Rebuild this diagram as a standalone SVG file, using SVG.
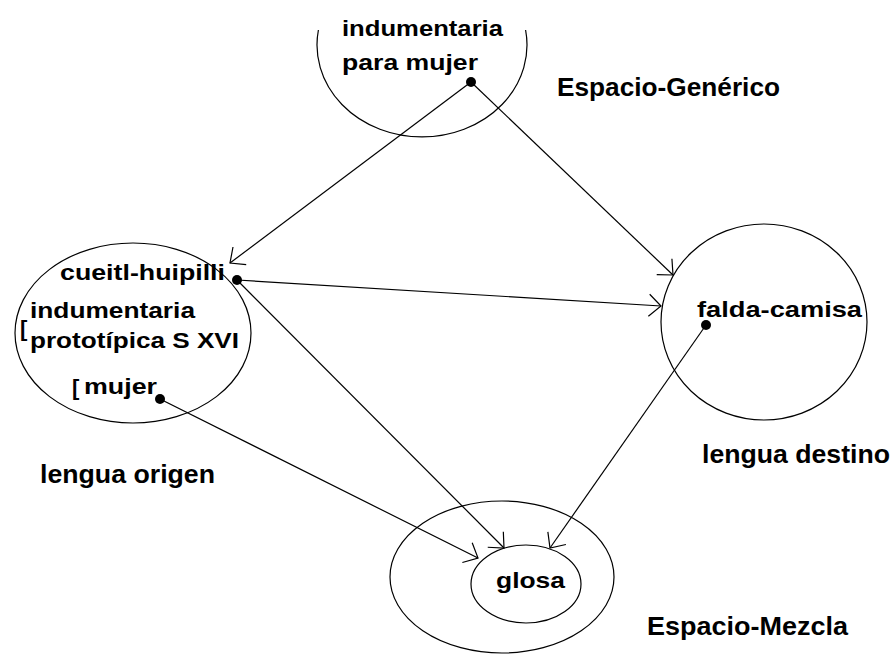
<svg xmlns="http://www.w3.org/2000/svg" width="895" height="654" viewBox="0 0 895 654">
<style>
.sh{fill:none;stroke:#000;stroke-width:1.2}
.t{font-family:"Liberation Sans",Arial,sans-serif;font-weight:bold;font-size:22px;fill:#000}
.l{font-family:"Liberation Sans",Arial,sans-serif;font-weight:bold;font-size:25px;fill:#000}
.c{stroke:#000;stroke-width:1.2;fill:none}
.d{fill:#000}
</style>
<defs>
<marker id="ah" viewBox="-16 -12 18 24" markerWidth="18" markerHeight="24" refX="0" refY="0" orient="auto" markerUnits="userSpaceOnUse" overflow="visible">
<path d="M-12,-11 L0,0 L-12,11" fill="none" stroke="#000" stroke-width="1.2"/>
</marker>
</defs>
<rect width="895" height="654" fill="#fff"/>
<g id="generico">
<path class="sh" d="M318.4,30 A105,92 0 1 0 525.6,30"/>
<text class="t" x="342" y="36" textLength="161" lengthAdjust="spacingAndGlyphs">indumentaria</text>
<text class="t" x="342" y="70" textLength="136" lengthAdjust="spacingAndGlyphs">para mujer</text>
<circle class="d" cx="471" cy="82" r="5"/>
</g>
<g id="label-generico">
<text class="l" x="557" y="96" textLength="223" lengthAdjust="spacingAndGlyphs">Espacio-Genérico</text>
</g>
<g id="origen">
<ellipse class="sh" cx="133" cy="333" rx="118" ry="90"/>
<text class="t" x="60" y="280" textLength="165" lengthAdjust="spacingAndGlyphs">cueitl-huipilli</text>
<text class="t" x="30" y="318" textLength="165" lengthAdjust="spacingAndGlyphs">indumentaria</text>
<text class="t" x="20" y="336" font-size="25">[</text>
<text class="t" x="30" y="348" textLength="209" lengthAdjust="spacingAndGlyphs">prototípica S XVI</text>
<text class="t" x="72" y="395" font-size="23">[</text>
<text class="t" x="84" y="394" textLength="73" lengthAdjust="spacingAndGlyphs">mujer</text>
<circle class="d" cx="237" cy="280" r="5"/>
<circle class="d" cx="160" cy="399" r="5"/>
</g>
<g id="label-origen">
<text class="l" x="40" y="483" textLength="175" lengthAdjust="spacingAndGlyphs">lengua origen</text>
</g>
<g id="destino">
<ellipse class="sh" cx="764" cy="322" rx="103" ry="98"/>
<text class="t" x="697" y="317" textLength="165" lengthAdjust="spacingAndGlyphs">falda-camisa</text>
<circle class="d" cx="706" cy="325" r="5"/>
</g>
<g id="label-destino">
<text class="l" x="702" y="463" textLength="188" lengthAdjust="spacingAndGlyphs">lengua destino</text>
</g>
<g id="mezcla">
<ellipse class="sh" cx="502" cy="577" rx="112" ry="76"/>
<ellipse class="sh" cx="526" cy="584" rx="55" ry="39"/>
<text class="t" x="496" y="588" textLength="69" lengthAdjust="spacingAndGlyphs">glosa</text>
</g>
<g id="label-mezcla">
<text class="l" x="647" y="635" textLength="201" lengthAdjust="spacingAndGlyphs">Espacio-Mezcla</text>
</g>
<g id="connectors">
<line class="c" x1="471" y1="82" x2="230" y2="263" marker-end="url(#ah)"/>
<line class="c" x1="471" y1="82" x2="673" y2="275" marker-end="url(#ah)"/>
<line class="c" x1="237" y1="280" x2="661" y2="306" marker-end="url(#ah)"/>
<line class="c" x1="237" y1="280" x2="504" y2="548" marker-end="url(#ah)"/>
<line class="c" x1="160" y1="399" x2="478" y2="558" marker-end="url(#ah)"/>
<line class="c" x1="706" y1="325" x2="550" y2="548" marker-end="url(#ah)"/>
</g>
</svg>
